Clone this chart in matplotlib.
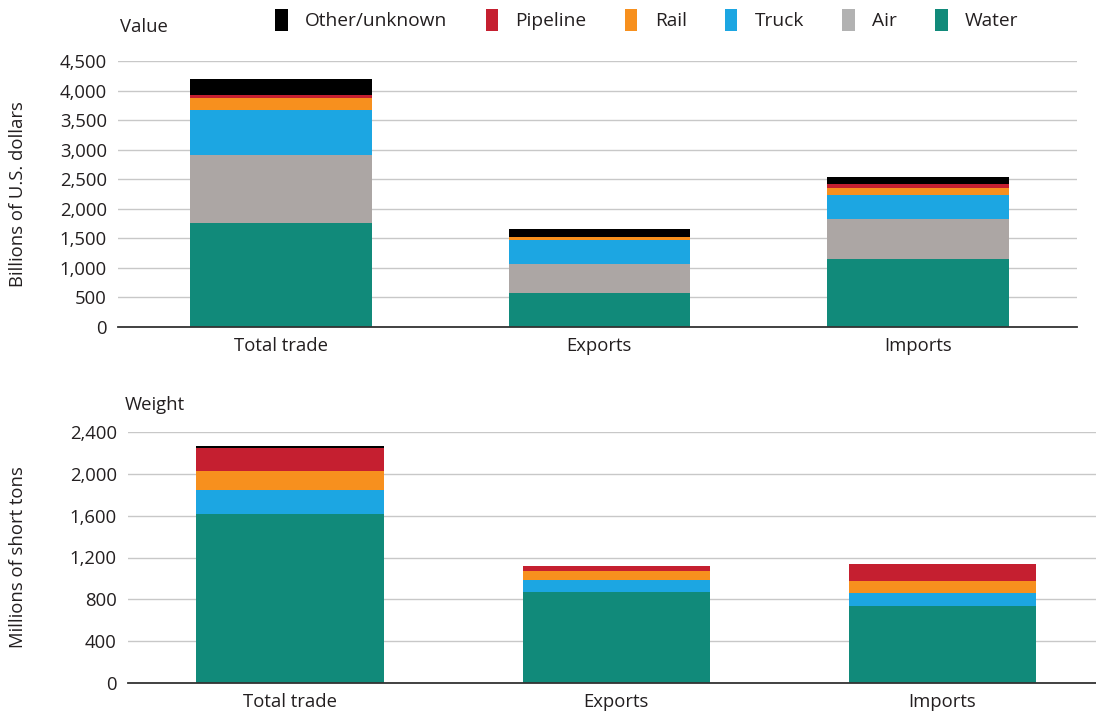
import matplotlib
matplotlib.use("Agg")
import matplotlib.pyplot as plt
import numpy as np
from matplotlib.patches import Patch

plt.rcParams['font.family'] = ['Open Sans', 'DejaVu Sans']

categories = ["Total trade", "Exports", "Imports"]
modes = ["Water", "Air", "Truck", "Rail", "Pipeline", "Other/unknown"]
colors = {"Water": "#118a7a", "Air": "#aca6a4", "Truck": "#1ca6e2",
          "Rail": "#f7901e", "Pipeline": "#c51f30", "Other/unknown": "#000000"}

# Value, billions of U.S. dollars
value_water = [1760, 575, 1150]
value_air = [1150, 490, 680]
value_truck = [760, 405, 405]
value_rail = [200, 45, 120]
value_pipeline = [50, 5, 70]
value_other = [275, 135, 120]

# Weight, millions of short tons
weight_water = [1615, 870, 736]
weight_air = [2, 1, 1]
weight_truck = [230, 115, 125]
weight_rail = [180, 85, 115]
weight_pipeline = [220, 45, 160]
weight_other = [18, 4, 3]

value_ticks = [0, 500, 1000, 1500, 2000, 2500, 3000, 3500, 4000, 4500]
weight_ticks = [0, 400, 800, 1200, 1600, 2000, 2400]

value_data = [value_water, value_air, value_truck, value_rail, value_pipeline, value_other]
weight_data = [weight_water, weight_air, weight_truck, weight_rail, weight_pipeline, weight_other]

FS = 13.3
TXT = "#231f20"

fig = plt.figure(figsize=(10.96, 7.2), dpi=100)
ax1 = fig.add_axes([118/1096, 1-327/720, (1077-118)/1096, (327-61)/720])
ax2 = fig.add_axes([128/1096, 1-683/720, (1096-128)/1096, (683-432)/720])

def draw(ax, data, ticks, width, xlim):
    x = np.arange(len(categories))
    bottom = np.zeros(len(categories))
    for m, vals in zip(modes, data):
        vals = np.array(vals, dtype=float)
        ax.bar(x, vals, width, bottom=bottom, color=colors[m], linewidth=0, zorder=3)
        bottom += vals
    ax.set_xlim(*xlim)
    ax.set_ylim(0, ticks[-1])
    ax.set_yticks(ticks)
    ax.set_yticklabels([f"{t:,}" for t in ticks], fontsize=FS, color=TXT)
    ax.set_xticks(x)
    ax.set_xticklabels(categories, fontsize=FS, color=TXT)
    ax.tick_params(axis='y', length=0, pad=8)
    ax.tick_params(axis='x', length=0, pad=7)
    ax.grid(axis='y', color="#c8c8c8", linewidth=1, zorder=0)
    ax.set_axisbelow(True)
    for s in ["top", "right", "left"]:
        ax.spines[s].set_visible(False)
    ax.spines["bottom"].set_color("#333333")
    ax.spines["bottom"].set_linewidth(1.3)
    ax.spines["bottom"].set_zorder(4)

draw(ax1, value_data, value_ticks, 0.571, (-0.512, 2.5))
draw(ax2, weight_data, weight_ticks, 0.574, (-0.497, 2.472))

ax1.set_ylabel("Billions of U.S. dollars", fontsize=FS, color=TXT)
ax2.set_ylabel("Millions of short tons", fontsize=FS, color=TXT)
ax1.yaxis.set_label_coords(-0.095, 0.5)
ax2.yaxis.set_label_coords(-0.104, 0.5)

fig.text(120/1096, 1-27/720, "Value", fontsize=FS, color=TXT, va="center", ha="left")
fig.text(125/1096, 1-405/720, "Weight", fontsize=FS, color=TXT, va="center", ha="left")

legend_order = ["Other/unknown", "Pipeline", "Rail", "Truck", "Air", "Water"]
handles = [Patch(facecolor=colors[m] if m != "Air" else "#b2b2b2", edgecolor="none", label=m)
           for m in legend_order]
fig.legend(handles=handles, loc="center", bbox_to_anchor=(647/1096, 1-20/720), ncol=6,
           frameon=False, fontsize=13.8, handlelength=0.65, handleheight=1.45,
           handletextpad=0.9, columnspacing=2.0, labelcolor=TXT)

fig.savefig("out.png", dpi=100)
